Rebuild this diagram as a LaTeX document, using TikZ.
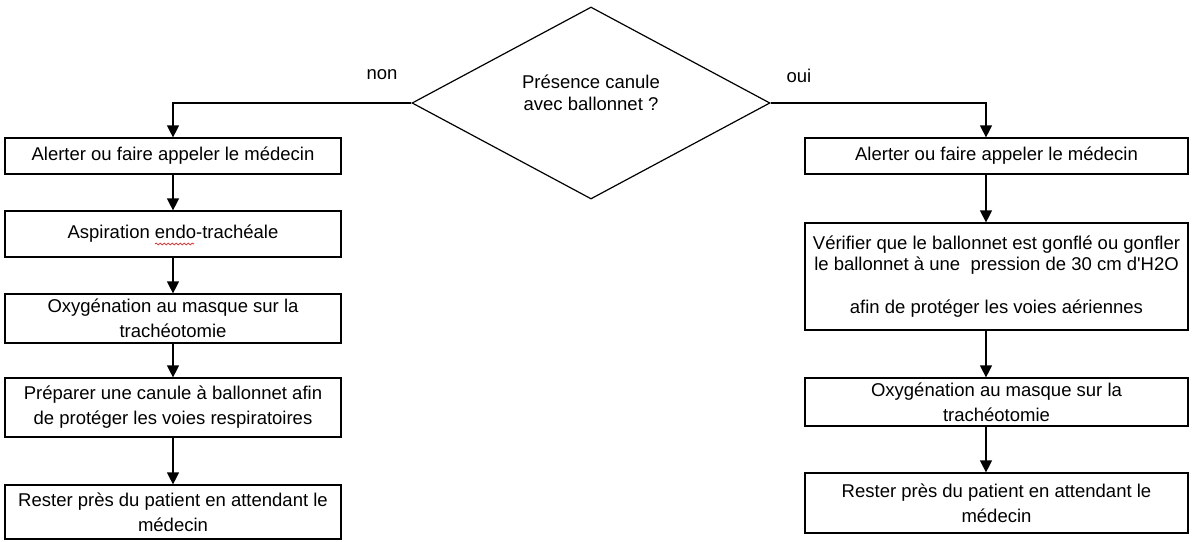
\documentclass[tikz,border=0pt]{standalone}
\usepackage{fontspec}
\setmainfont{Liberation Sans}
\usetikzlibrary{arrows.meta,shapes.geometric,decorations.pathmorphing}
\begin{document}
\begin{tikzpicture}[x=1pt,y=-1pt,
  box/.style={draw, line width=1.2pt, inner sep=0pt, align=center,
    font=\fontsize{18.5}{25}\selectfont},
  lbox/.style={box, minimum width=336pt},
  rbox/.style={box, minimum width=383pt},
  conn/.style={line width=1.2pt, -{Triangle[width=12pt,length=12pt]}},
  lbl/.style={font=\fontsize{18.5}{22}\selectfont, inner sep=0pt, align=center}]
\useasboundingbox (0,0) rectangle (1197,541);

% decision
\node[draw, diamond, line width=1.2pt, minimum width=358pt, minimum height=192pt, inner sep=0pt] (D) at (591,103) {};
\node[lbl] (Dt) at (591,93) {Présence canule\\avec ballonnet ?};
\node[lbl] (non) at (382,75) {non};
\node[lbl] (oui) at (799,76) {oui};

% left branch
\node[lbox, minimum height=36pt] (L1) at (173,156) {Alerter ou faire appeler le médecin};
\node[lbox, minimum height=46pt] (L2) at (173,234) {Aspiration endo-trachéale};
\node[lbox, minimum height=49pt] (L3) at (173,318.5) {Oxygénation au masque sur la\\trachéotomie};
\node[lbox, minimum height=59pt] (L4) at (173,407.5) {Préparer une canule à ballonnet afin\\de protéger les voies respiratoires};
\node[lbox, minimum height=54pt] (L5) at (173,512) {Rester près du patient en attendant le\\médecin};

% right branch
\coordinate (rx) at (986,0);
\node[rbox, minimum height=107pt, font=\fontsize{18.5}{21}\selectfont] (R2) at (996.5,276.5)
  {Vérifier que le ballonnet est gonflé ou gonfler\\le ballonnet à une~~pression de 30 cm d\textquotesingle H2O\\[22pt]afin de protéger les voies aériennes};
\node[rbox, minimum height=36pt] (R1) at (996.5,156) {Alerter ou faire appeler le médecin};
\node[rbox, minimum height=48pt] (R3) at (996.5,402) {Oxygénation au masque sur la\\trachéotomie};
\node[rbox, minimum height=60pt] (R4) at (996.5,503) {Rester près du patient en attendant le\\médecin};

% spell-check squiggle
\draw[red, line width=0.6pt, decorate, decoration={snake, amplitude=1pt, segment length=4pt}] (155,244) -- (194,244);

% connectors
\draw[conn] (D.west) -| (L1.north);
\draw[conn] (L1) -- (L2);
\draw[conn] (L2) -- (L3);
\draw[conn] (L3) -- (L4);
\draw[conn] (L4) -- (L5);

\draw[conn] (D.east) -| (R1.north -| rx);
\draw[conn] (R1.south -| rx) -- (R2.north -| rx);
\draw[conn] (R2.south -| rx) -- (R3.north -| rx);
\draw[conn] (R3.south -| rx) -- (R4.north -| rx);
\end{tikzpicture}
\end{document}
